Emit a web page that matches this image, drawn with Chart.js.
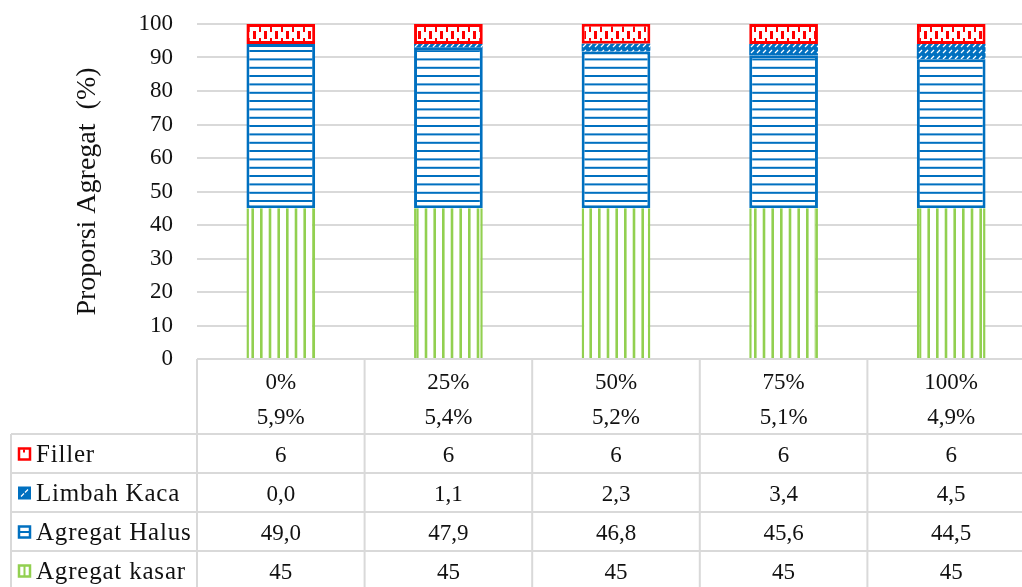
<!DOCTYPE html>
<html>
<head>
<meta charset="utf-8">
<script src="https://cdn.jsdelivr.net/npm/chart.js@4/dist/chart.umd.min.js"></script>
<style>
html,body{margin:0;padding:0;background:#fff;overflow:hidden;width:1022px;height:587px;}
#wrap{width:1036px;height:587px;position:relative;}
</style>
</head>
<body>
<div id="wrap"><canvas id="c" width="1036" height="587"></canvas></div>
<script>
// ---- data ----
const categories = ['0%', '25%', '50%', '75%', '100%'];
const subLabels = ['5,9%', '5,4%', '5,2%', '5,1%', '4,9%'];
const filler = [6, 6, 6, 6, 6];
const limbahKaca = [0.0, 1.1, 2.3, 3.4, 4.5];
const agregatHalus = [49.0, 47.9, 46.8, 45.6, 44.5];
const agregatKasar = [45, 45, 45, 45, 45];
const yTicks = [0, 10, 20, 30, 40, 50, 60, 70, 80, 90, 100];
const yTitle = 'Proporsi Agregat  (%)';

const RED = '#FF0000', BLUE = '#0070C0', GREEN = '#92D050', GRID = '#D9D9D9';
const FONT = '"Liberation Serif", "Times New Roman", serif';

const canvas = document.getElementById('c');
const mainCtx = canvas.getContext('2d');

function makePattern(w, h, draw) {
  const c = document.createElement('canvas');
  c.width = w; c.height = h;
  const g = c.getContext('2d');
  draw(g, w, h);
  return mainCtx.createPattern(c, 'repeat');
}
const patKasar = makePattern(26, 10, (g, w, h) => {
  g.fillStyle = '#fff'; g.fillRect(0, 0, w, h);
  g.fillStyle = GREEN;
  [0, 8.7, 17.4].forEach(x => g.fillRect(x, 0, 2.6, h));
});
const patHalus = makePattern(10, 25, (g, w, h) => {
  g.fillStyle = '#fff'; g.fillRect(0, 0, w, h);
  g.fillStyle = BLUE;
  [0, 8.4, 16.8].forEach(y => g.fillRect(0, y, w, 2));
});
const patKaca = makePattern(6, 6, (g, w, h) => {
  g.fillStyle = BLUE; g.fillRect(0, 0, w, h);
  g.strokeStyle = '#fff'; g.lineWidth = 1.3;
  g.beginPath(); g.moveTo(1, 5); g.lineTo(4, 2); g.stroke();
});
const patFiller = makePattern(11, 14, (g, w, h) => {
  g.fillStyle = '#fff'; g.fillRect(0, 0, w, h);
  g.fillStyle = RED;
  g.fillRect(0, 3, 3, 8);
  g.fillRect(6, 0, 2, 4);
  g.fillRect(6, 10, 2, 4);
});

const tablePlugin = {
  id: 'dataTable',
  afterDraw(chart) {
    const ctx = chart.ctx;
    const xs = chart.scales.x;
    const area = chart.chartArea;
    const n = categories.length;
    const cw = xs.width / n;
    const top = area.bottom;
    const headerH = 75;
    const rowH = 39;
    const tableLeft = 11;
    const bounds = [];
    for (let i = 0; i <= n; i++) bounds.push(xs.getPixelForValue(0) - cw / 2 + i * cw);
    const right = bounds[n];
    const bottom = chart.height + 5;
    ctx.save();
    ctx.strokeStyle = GRID;
    ctx.lineWidth = 2;
    ctx.beginPath();
    ctx.moveTo(bounds[0], top); ctx.lineTo(right, top);
    for (let r = 0; r < 4; r++) {
      const y = top + headerH + r * rowH;
      ctx.moveTo(tableLeft, y); ctx.lineTo(right, y);
    }
    bounds.forEach(x => { ctx.moveTo(x, top); ctx.lineTo(x, bottom); });
    ctx.moveTo(tableLeft, top + headerH); ctx.lineTo(tableLeft, bottom);
    ctx.stroke();

    ctx.fillStyle = '#111';
    ctx.font = '23px ' + FONT;
    ctx.textAlign = 'center';
    ctx.textBaseline = 'middle';
    for (let i = 0; i < n; i++) {
      const cx = xs.getPixelForValue(i);
      ctx.fillText(categories[i], cx, top + 24);
      ctx.fillText(subLabels[i], cx, top + 59);
    }
    const rows = [
      { name: 'Filler', vals: filler, dec: 0, key: 'filler' },
      { name: 'Limbah Kaca', vals: limbahKaca, dec: 1, key: 'kaca' },
      { name: 'Agregat Halus', vals: agregatHalus, dec: 1, key: 'halus' },
      { name: 'Agregat kasar', vals: agregatKasar, dec: 0, key: 'kasar' }
    ];
    rows.forEach((row, r) => {
      const cy = top + headerH + r * rowH + rowH / 2;
      ctx.textAlign = 'center';
      ctx.font = '23px ' + FONT;
      for (let i = 0; i < n; i++) {
        const s = row.vals[i].toFixed(row.dec).replace('.', ',');
        ctx.fillText(s, xs.getPixelForValue(i), cy + 2);
      }
      // legend key
      const kx = 18, ky = cy - 6, ks = 13;
      if (row.key === 'filler') {
        ctx.fillStyle = '#fff'; ctx.fillRect(kx, ky, ks, ks);
        ctx.strokeStyle = RED; ctx.lineWidth = 2.5; ctx.strokeRect(kx + 1, ky + 1, ks - 2, ks - 2);
        ctx.fillStyle = RED; ctx.fillRect(kx + 5, ky + 2, 2, 3);
      } else if (row.key === 'kaca') {
        ctx.fillStyle = BLUE; ctx.fillRect(kx, ky, ks, ks);
        ctx.strokeStyle = '#fff'; ctx.lineWidth = 1.2;
        ctx.beginPath(); ctx.moveTo(kx + 3, ky + 10); ctx.lineTo(kx + 6, ky + 7);
        ctx.moveTo(kx + 7, ky + 6); ctx.lineTo(kx + 10, ky + 3); ctx.stroke();
      } else if (row.key === 'halus') {
        ctx.fillStyle = '#fff'; ctx.fillRect(kx, ky, ks, ks);
        ctx.strokeStyle = BLUE; ctx.lineWidth = 2.5; ctx.strokeRect(kx + 1, ky + 1, ks - 2, ks - 2);
        ctx.fillStyle = BLUE; ctx.fillRect(kx + 1, ky + 5.5, ks - 2, 2);
      } else {
        ctx.fillStyle = '#fff'; ctx.fillRect(kx, ky, ks, ks);
        ctx.strokeStyle = GREEN; ctx.lineWidth = 2.5; ctx.strokeRect(kx + 1, ky + 1, ks - 2, ks - 2);
        ctx.fillStyle = GREEN; ctx.fillRect(kx + 5.5, ky + 1, 2, ks - 2);
      }
      ctx.fillStyle = '#111';
      ctx.textAlign = 'left';
      ctx.font = '25px ' + FONT;
      ctx.letterSpacing = '0.8px';
      ctx.fillText(row.name, 36, cy + 2);
      ctx.letterSpacing = '0px';
    });
    ctx.restore();
  }
};

new Chart(canvas, {
  type: 'bar',
  data: {
    labels: categories,
    datasets: [
      { label: 'Agregat kasar', data: agregatKasar, backgroundColor: patKasar,
        borderColor: GREEN, borderWidth: { left: 2.5, right: 2.5, top: 0, bottom: 0 }, borderSkipped: false },
      { label: 'Agregat Halus', data: agregatHalus, backgroundColor: patHalus,
        borderColor: BLUE, borderWidth: 3, borderSkipped: false },
      { label: 'Limbah Kaca', data: limbahKaca, backgroundColor: patKaca,
        borderColor: BLUE, borderWidth: 0, borderSkipped: false },
      { label: 'Filler', data: filler, backgroundColor: patFiller,
        borderColor: RED, borderWidth: 3, borderSkipped: false }
    ]
  },
  options: {
    responsive: false,
    animation: false,
    devicePixelRatio: 1,
    layout: { padding: { top: 24, bottom: 228, left: 0, right: 1 } },
    datasets: { bar: { categoryPercentage: 1, barPercentage: 0.41 } },
    plugins: { legend: { display: false }, tooltip: { enabled: false } },
    scales: {
      x: { stacked: true, display: false },
      y: {
        stacked: true, min: 0, max: 100,
        afterFit(s) { s.width = 197; s.paddingTop = 0; s.paddingBottom = 0; },
        afterBuildTicks(s) { s.ticks = yTicks.map(v => ({ value: v })); },
        grid: { color: GRID, lineWidth: 2, drawTicks: false },
        border: { display: false },
        ticks: { padding: 24, color: '#111', font: { family: FONT, size: 23 } },
        title: { display: true, text: yTitle, color: '#111', padding: { top: 71, bottom: 0 },
          font: { family: FONT, size: 28 } }
      }
    }
  },
  plugins: [tablePlugin]
});
</script>
</body>
</html>
